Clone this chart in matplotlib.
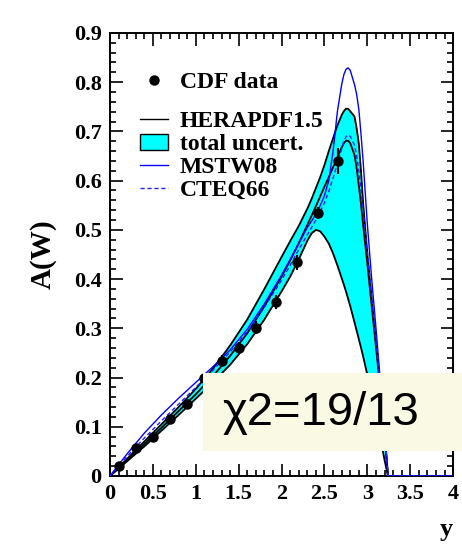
import matplotlib
matplotlib.use('Agg')
import matplotlib.pyplot as plt
from matplotlib.lines import Line2D
from matplotlib.patches import Patch, Rectangle
from matplotlib.ticker import MultipleLocator, FormatStrFormatter

# rapidity grid for the theory curves
y_grid = [0, 0.2, 0.4, 0.6, 0.8, 1.0, 1.2, 1.4, 1.6, 1.8, 2.0, 2.1, 2.2, 2.3, 2.35,
          2.4, 2.45, 2.5, 2.55, 2.6, 2.65, 2.7, 2.725, 2.75, 2.775, 2.8, 2.85,
          2.875, 2.9, 2.925, 2.95, 3.0, 3.05, 3.1, 3.15, 3.2, 3.24, 3.5, 4.0]

hera_up = [0, 0.035, 0.07, 0.105, 0.14, 0.177, 0.218, 0.265, 0.318, 0.38, 0.445,
           0.477, 0.508, 0.543, 0.563, 0.585, 0.607, 0.632, 0.66, 0.686, 0.712,
           0.733, 0.741, 0.746, 0.746, 0.741, 0.73, 0.706, 0.675, 0.62, 0.555,
           0.45, 0.36, 0.27, 0.185, 0.09, 0, 0, 0]
hera_lo = [0, 0.03, 0.06, 0.092, 0.124, 0.157, 0.19, 0.226, 0.268, 0.318, 0.375,
           0.405, 0.44, 0.478, 0.493, 0.5, 0.497, 0.486, 0.472, 0.452, 0.428,
           0.402, 0.389, 0.375, 0.36, 0.345, 0.312, 0.295, 0.278, 0.261, 0.243,
           0.205, 0.165, 0.122, 0.078, 0.032, 0, 0, 0]
hera_c = [0, 0.032, 0.065, 0.098, 0.132, 0.166, 0.203, 0.244, 0.29, 0.345, 0.405,
          0.438, 0.473, 0.51, 0.529, 0.548, 0.568, 0.588, 0.607, 0.627, 0.647,
          0.667, 0.676, 0.681, 0.681, 0.676, 0.652, 0.625, 0.59, 0.553, 0.51,
          0.43, 0.345, 0.262, 0.178, 0.085, 0, 0, 0]
mstw = [0, 0.045, 0.087, 0.124, 0.158, 0.19, 0.222, 0.256, 0.298, 0.35, 0.408,
        0.44, 0.472, 0.505, 0.518, 0.532, 0.549, 0.57, 0.6, 0.66, 0.74, 0.795,
        0.815, 0.826, 0.829, 0.824, 0.795, 0.775, 0.745, 0.695, 0.64, 0.51, 0.4,
        0.3, 0.195, 0.09, 0, 0, 0]
cteq = [0, 0.04, 0.077, 0.112, 0.146, 0.18, 0.215, 0.252, 0.293, 0.343, 0.398,
        0.428, 0.46, 0.49, 0.505, 0.52, 0.537, 0.555, 0.578, 0.605, 0.635, 0.665,
        0.68, 0.689, 0.693, 0.69, 0.672, 0.65, 0.62, 0.582, 0.54, 0.455, 0.365,
        0.275, 0.185, 0.09, 0, 0, 0]

# CDF data
cdf_y = [0.1, 0.3, 0.5, 0.7, 0.9, 1.1, 1.3, 1.5, 1.7, 1.93, 2.18, 2.43, 2.66]
cdf_a = [0.02, 0.056, 0.08, 0.115, 0.146, 0.2, 0.234, 0.261, 0.301, 0.353, 0.434, 0.535, 0.64]
cdf_err = [0.006, 0.007, 0.008, 0.008, 0.009, 0.01, 0.011, 0.012, 0.013, 0.014, 0.015, 0.012, 0.026]

chi2_text = '\u03c72=19/13'

serif = 'Liberation Serif'
plt.rcParams['font.family'] = serif
plt.rcParams['font.weight'] = 'bold'

fig = plt.figure(figsize=(4.62, 5.49), dpi=100)
ax = fig.add_axes([0.238, 0.133, 0.743, 0.807])

ax.fill_between(y_grid, hera_lo, hera_up, color='#00ffff', lw=0, zorder=1)
ax.plot(y_grid, hera_up, color='black', lw=1.3, zorder=2)
ax.plot(y_grid, hera_lo, color='black', lw=1.3, zorder=2)
ax.plot(y_grid, hera_c, color='black', lw=1.3, zorder=3)
ax.plot(y_grid, mstw, color='#0000ff', lw=1.0, zorder=4)
ax.plot(y_grid, cteq, color='#2020ff', lw=1.0, ls=(0, (3, 2)), zorder=4)
ax.errorbar(cdf_y, cdf_a, yerr=cdf_err, fmt='o', color='black', ms=6.5,
            elinewidth=1.5, capsize=0, zorder=5)

ax.set_xlim(0, 4)
ax.set_ylim(0, 0.9)
ax.xaxis.set_major_locator(MultipleLocator(0.5))
ax.xaxis.set_minor_locator(MultipleLocator(0.1))
ax.yaxis.set_major_locator(MultipleLocator(0.1))
ax.yaxis.set_minor_locator(MultipleLocator(0.02))
ax.xaxis.set_major_formatter(FormatStrFormatter('%g'))
ax.yaxis.set_major_formatter(FormatStrFormatter('%g'))
ax.tick_params(which='both', direction='in', top=True, right=True, width=1.2,
               labelsize=16, pad=6)
ax.tick_params(which='major', length=9)
ax.tick_params(which='minor', length=4.5)
for lab in ax.get_xticklabels() + ax.get_yticklabels():
    lab.set_fontweight('bold')
for sp in ax.spines.values():
    sp.set_linewidth(1.4)

ax.set_ylabel('A(W)', fontsize=21, fontweight='bold', labelpad=12)
ax.set_xlabel('y', fontsize=19, fontweight='bold', loc='right', labelpad=10)

# legend
prop = {'family': serif, 'weight': 'bold', 'size': 17}
h_data = Line2D([], [], marker='o', color='black', ls='none', ms=6.5)
leg1 = ax.legend([h_data], ['CDF data'], loc='upper left', bbox_to_anchor=(0.087, 0.912),
                 frameon=False, prop=prop, handlelength=1.2, handletextpad=0.5,
                 borderpad=0, borderaxespad=0)
ax.add_artist(leg1)
h_hera = Line2D([], [], color='black', lw=1.0)
h_band = Patch(facecolor='#00ffff', edgecolor='black', lw=1.0)
h_mstw = Line2D([], [], color='#0000ff', lw=1.0)
h_cteq = Line2D([], [], color='#2020ff', lw=1.0, ls=(0, (3, 2)))
ax.legend([h_hera, h_band, h_mstw, h_cteq],
          ['HERAPDF1.5', 'total uncert.', 'MSTW08', 'CTEQ66'],
          loc='upper left', bbox_to_anchor=(0.087, 0.824), frameon=False,
          prop=prop, handlelength=1.2, handleheight=0.68, handletextpad=0.5,
          labelspacing=0.06, borderpad=0, borderaxespad=0)

# chi2 box overlay
fig.add_artist(Rectangle((203 / 462, 1 - 451 / 549), (462 - 203) / 462, 78 / 549,
                         transform=fig.transFigure, facecolor='#fafae4',
                         edgecolor='none', zorder=10))
fig.text(223 / 462, 1 - 413 / 549, chi2_text, family='Liberation Sans',
         fontweight='normal', fontsize=34, va='center', ha='left', zorder=11)

fig.savefig('out.png', dpi=100)
